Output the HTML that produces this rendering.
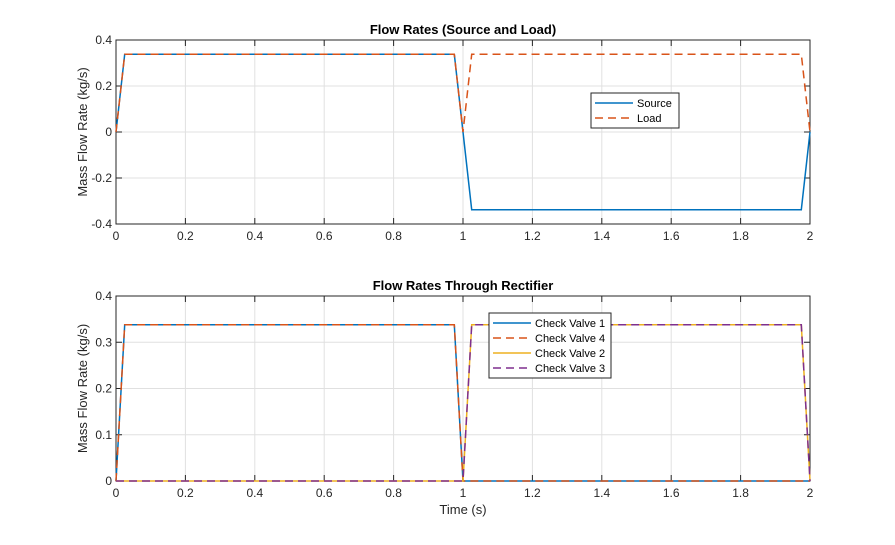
<!DOCTYPE html>
<html><head><meta charset="utf-8"><style>
body{margin:0;background:#fff}
svg{font-family:"Liberation Sans",sans-serif}
</style></head><body>
<svg id="c" width="895" height="540"></svg>
<script>
const timeTop=[0,0.025,0.975,1.0,1.025,1.975,2.0];
const sourceVals=[0,0.338,0.338,0,-0.338,-0.338,0];
const loadVals=[0,0.338,0.338,0,0.338,0.338,0];
const timeBot=[0,0.025,0.975,1.0,1.025,1.975,2.0];
const cv1Vals=[0,0.338,0.338,0,0,0,0];
const cv4Vals=[0,0.338,0.338,0,0,0,0];
const cv2Vals=[0,0,0,0,0.338,0.338,0];
const cv3Vals=[0,0,0,0,0.338,0.338,0];
const xTicks=["0","0.2","0.4","0.6","0.8","1","1.2","1.4","1.6","1.8","2"];
const yTicksTop=["-0.4","-0.2","0","0.2","0.4"];
const yTicksBot=["0","0.1","0.2","0.3","0.4"];

const svg=document.getElementById('c');
const NS='http://www.w3.org/2000/svg';
function mk(t,a,txt){const e=document.createElementNS(NS,t);for(const k in a)e.setAttribute(k,a[k]);if(txt!==undefined)e.textContent=txt;svg.appendChild(e);return e;}
const X0=116,X1=810;
function sx(v){return X0+(v-0)/2*(X1-X0);}
function axes(top,bot,ymin,ymax,yt,title,name){
  const sy=v=>bot-(v-ymin)/(ymax-ymin)*(bot-top);
  let g;
  xTicks.forEach(t=>{const x=sx(+t);
    g=mk('line',{x1:x,x2:x,y1:top,y2:bot,stroke:'#e0e0e0','stroke-width':1});
    
    mk('line',{x1:x,x2:x,y1:bot,y2:bot-6,stroke:'#262626'});
    mk('line',{x1:x,x2:x,y1:top,y2:top+6,stroke:'#262626'});
    g=mk('text',{x:x,y:bot+16,'text-anchor':'middle','font-size':12,fill:'#262626'},t);
    
  });
  yt.forEach(t=>{const y=sy(+t);
    g=mk('line',{x1:X0,x2:X1,y1:y,y2:y,stroke:'#e0e0e0','stroke-width':1});
    
    mk('line',{x1:X0,x2:X0+6,y1:y,y2:y,stroke:'#262626'});
    mk('line',{x1:X1,x2:X1-6,y1:y,y2:y,stroke:'#262626'});
    g=mk('text',{x:X0-4,y:y+4,'text-anchor':'end','font-size':12,fill:'#262626'},t);
    
  });
  g=mk('rect',{x:X0,y:top,width:X1-X0,height:bot-top,fill:'none',stroke:'#262626','stroke-width':1});
  
  g=mk('text',{x:(X0+X1)/2,y:top-6,'text-anchor':'middle','font-size':13,'font-weight':'bold',fill:'#000'},title);
  
  const cy=(top+bot)/2;
  g=mk('text',{x:87,y:cy,'text-anchor':'middle','font-size':13,fill:'#262626',transform:`rotate(-90 87 ${cy})`},'Mass Flow Rate (kg/s)');
  
  return sy;
}
function line(ts,vs,sy,color,dash,w,nm){
  const p=ts.map((t,i)=>sx(t).toFixed(1)+','+sy(vs[i]).toFixed(1)).join(' ');
  const e=mk('polyline',{points:p,fill:'none',stroke:color,'stroke-width':w,'stroke-dasharray':dash||'none'});
  
}
const syT=axes(40,224,-0.4,0.4,yTicksTop,'Flow Rates (Source and Load)','top');
line(timeTop,sourceVals,syT,'#0072bd','',1.5,'source-line');
line(timeTop,loadVals,syT,'#d95319','8,5',1.5,'load-line');
const syB=axes(296,481,0,0.4,yTicksBot,'Flow Rates Through Rectifier','bottom');
line(timeBot,cv1Vals,syB,'#0072bd','',1.5,'check-valve-1-line');
line(timeBot,cv4Vals,syB,'#d95319','8,5',1.5,'check-valve-4-line');
line(timeBot,cv2Vals,syB,'#edb120','',1.5,'check-valve-2-line');
line(timeBot,cv3Vals,syB,'#7e2f8e','8,5',1.5,'check-valve-3-line');
let g=mk('text',{x:463,y:514,'text-anchor':'middle','font-size':13,fill:'#262626'},'Time (s)');

function legend(x,y,w,items,nm){
  const h=items.length*15+5;
  const r=mk('rect',{x:x,y:y,width:w,height:h,fill:'#fff',stroke:'#262626'});
  
  items.forEach((it,i)=>{const yy=y+10+i*15;
    mk('line',{x1:x+4,x2:x+42,y1:yy,y2:yy,stroke:it[1],'stroke-width':1.5,'stroke-dasharray':it[2]||'none'});
    const t=mk('text',{x:x+46,y:yy+4,'font-size':11,fill:'#000'},it[0]);
    
  });
}
legend(591,93,88,[['Source','#0072bd'],['Load','#d95319','8,5']],'top-legend');
legend(489,313,122,[['Check Valve 1','#0072bd'],['Check Valve 4','#d95319','8,5'],['Check Valve 2','#edb120'],['Check Valve 3','#7e2f8e','8,5']],'bottom-legend');
</script>
</body></html>
